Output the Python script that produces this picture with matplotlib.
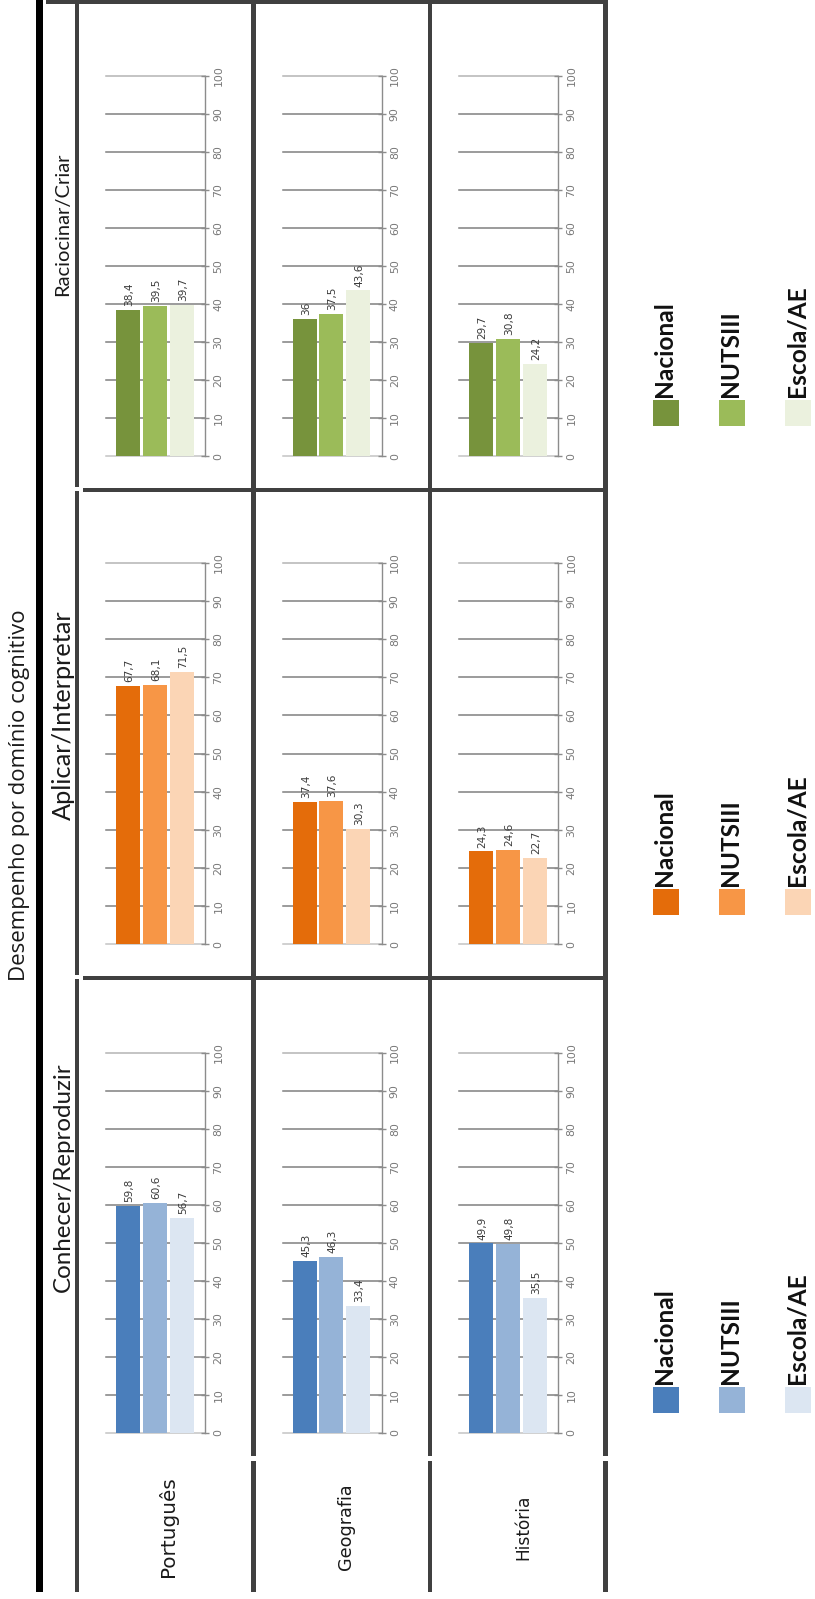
import matplotlib
matplotlib.use("Agg")
import matplotlib.pyplot as plt
from matplotlib.patches import Rectangle

# ---------------- data ----------------
title = "Desempenho por domínio cognitivo"
subjects = ["Português", "Geografia", "História"]
series = ["Nacional", "NUTSIII", "Escola/AE"]
domains = ["Conhecer/Reproduzir", "Aplicar/Interpretar", "Raciocinar/Criar"]

conhecer_nacional = [59.8, 45.3, 49.9]
conhecer_nuts = [60.6, 46.3, 49.8]
conhecer_escola = [56.7, 33.4, 35.5]

aplicar_nacional = [67.7, 37.4, 24.3]
aplicar_nuts = [68.1, 37.6, 24.6]
aplicar_escola = [71.5, 30.3, 22.7]

raciocinar_nacional = [38.4, 36, 29.7]
raciocinar_nuts = [39.5, 37.5, 30.8]
raciocinar_escola = [39.7, 43.6, 24.2]

y_ticks = [0, 10, 20, 30, 40, 50, 60, 70, 80, 90, 100]

# ---------------- style ----------------
blue = ["#4a7ebb", "#95b3d7", "#dce6f2"]
orange = ["#e46c0a", "#f79646", "#fbd5b5"]
green = ["#77933c", "#9bbb59", "#ebf1de"]

W, H = 815, 1599
fig = plt.figure(figsize=(W / 100, H / 100), dpi=100)
fig.patch.set_facecolor("white")

bg = fig.add_axes([0, 0, 1, 1])
bg.set_xlim(0, W)
bg.set_ylim(H, 0)
bg.axis("off")

border = "#404040"


def rect(x0, y0, x1, y1, color):
    bg.add_patch(Rectangle((x0, y0), x1 - x0, y1 - y0, facecolor=color,
                           edgecolor="none", zorder=1))


# black bar
rect(36, 0, 43, 1592, "black")
# header-column vertical line (small breaks at row borders)
rect(74.5, 0, 78.5, 487, border)
rect(74.5, 491, 78.5, 975, border)
rect(74.5, 979, 78.5, 1592, border)
# column separators
for xc in [253.5, 430, 605.5]:
    rect(xc - 2.2, 0, xc + 2.2, 1456, border)
    rect(xc - 2.2, 1461, xc + 2.2, 1592, border)
# top border
rect(46, 0, 608, 4, border)
# row borders
rect(83, 487.5, 608, 491.5, border)
rect(83, 975.5, 608, 979.5, border)

renderer = fig.canvas.get_renderer()


def fit(t, target):
    for _ in range(3):
        bb = t.get_window_extent(renderer)
        t.set_fontsize(t.get_fontsize() * target / bb.height)


# title
t = bg.text(20, 795, title, rotation=90, ha="center", va="center",
            family=["Open Sans", "DejaVu Sans"], color="#1a1a1a", fontsize=14)
fit(t, 372)

# row layout (image top to bottom): Raciocinar, Aplicar, Conhecer
row_data = {
    "Raciocinar/Criar": (raciocinar_nacional, raciocinar_nuts, raciocinar_escola, green, 456, 76, 224, 143, 426),
    "Aplicar/Interpretar": (aplicar_nacional, aplicar_nuts, aplicar_escola, orange, 944, 563, 715, 210, 915),
    "Conhecer/Reproduzir": (conhecer_nacional, conhecer_nuts, conhecer_escola, blue, 1433, 1053, 1177, 230, 1413),
}

axis_x = [205, 381.5, 558]
plot_w = 99
label_x = [168, 346, 523]
label_len = [101, 87, 66]

for dom in domains:
    nac, nuts, esc, cols, y0, y100, lab_y, lab_len, leg_y = row_data[dom]
    tt = bg.text(63, lab_y, dom, rotation=90, ha="center", va="center",
                 family=["Lato", "DejaVu Sans"], color="#1a1a1a", fontsize=12)
    fit(tt, lab_len)

    for j, subj in enumerate(subjects):
        R = axis_x[j]
        L = R - plot_w
        ax = fig.add_axes([L / W, (H - y0) / H, plot_w / W, (y0 - y100) / H])
        ax.set_facecolor("none")
        vals = [nac[j], nuts[j], esc[j]]
        xs = list(range(len(series)))
        ax.bar(xs, vals, width=0.9, color=cols, edgecolor="none", zorder=3)
        for tv in y_ticks:
            if tv == 100:
                c = "#b4b4b4"
            elif tv == 0:
                c = "#c4c4c4"
            else:
                c = "#808080"
            ax.axhline(tv, color=c, lw=1.1, zorder=1, clip_on=False)
        for xv, v in zip(xs, vals):
            ax.text(xv + 0.05, v + 1.0, f"{v:g}".replace(".", ","), rotation=90,
                    ha="center", va="bottom", fontsize=7.6, color="#3a3a3a",
                    zorder=4)
        ax.set_xlim(-0.83, 2.88)
        ax.set_ylim(0, 100)
        ax.set_xticks([])
        ax.set_yticks(y_ticks)
        ax.set_yticklabels([str(v) for v in y_ticks])
        ax.yaxis.tick_right()
        for s in ["top", "left", "bottom"]:
            ax.spines[s].set_visible(False)
        ax.spines["right"].set_color("#8c8c8c")
        ax.spines["right"].set_linewidth(1)
        ax.tick_params(axis="y", direction="inout", length=6, width=1,
                       color="#8c8c8c", labelsize=7.8, labelcolor="#787878",
                       labelrotation=90, pad=3)
        for lbl in ax.get_yticklabels():
            lbl.set_verticalalignment("center")

    # legend
    sq_x = [653, 719, 785]
    for k, name in enumerate(series):
        bg.add_patch(Rectangle((sq_x[k], leg_y - 26), 26, 26, facecolor=cols[k],
                               edgecolor="none", zorder=2))
        lt = bg.text(sq_x[k] + 12, leg_y - 29, name, rotation=90, ha="center",
                     va="bottom", family=["Lato", "DejaVu Sans"],
                     fontweight="bold", color="#111111", fontsize=13)
        if k == 0:
            fit(lt, 95)
            leg_fs = lt.get_fontsize()
        else:
            lt.set_fontsize(leg_fs)

# subject labels
for j, subj in enumerate(subjects):
    st = bg.text(label_x[j], 1527, subj, rotation=90, ha="center", va="center",
                 family=["DejaVu Sans"], color="#1a1a1a", fontsize=11)
    fit(st, label_len[j])

fig.savefig("out.png", dpi=100, facecolor="white")
